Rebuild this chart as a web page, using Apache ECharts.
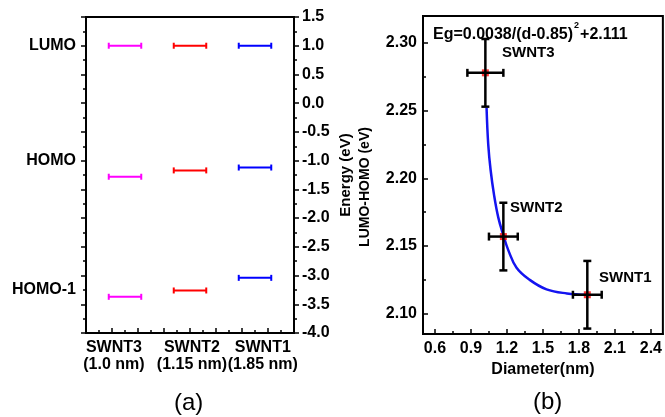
<!DOCTYPE html>
<html>
<head>
<meta charset="utf-8">
<script src="https://cdn.jsdelivr.net/npm/echarts@6/dist/echarts.min.js"></script>
<style>
html,body{margin:0;padding:0;background:#fff;}
#c{width:665px;height:417px;}
</style>
</head>
<body>
<div id="c"></div>
<script>
// ---------- Panel (a) data ----------
const samples = ['SWNT3', 'SWNT2', 'SWNT1'];
const sampleDiam = ['(1.0 nm)', '(1.15 nm)', '(1.85 nm)'];
const sampleX = [0.6, 1.6, 2.6];           // x position of each column on panel (a)
const sampleColors = ['#ff00ff', '#ff0000', '#0000ff'];
const levelSWNT3 = [1.0, -1.28, -3.37];    // LUMO, HOMO, HOMO-1 (eV)
const levelSWNT2 = [1.0, -1.17, -3.26];
const levelSWNT1 = [1.0, -1.12, -3.04];
const levelNames = ['LUMO', 'HOMO', 'HOMO-1'];
const levelNamePos = [1.0, -1.0, -3.25];
const sampleLabelPos = [0.43, 1.63, 2.72];

// ---------- Panel (b) data ----------
const diam = [1.02, 1.17, 1.87];
const gap = [2.278, 2.157, 2.114];
const diamErr = [0.15, 0.12, 0.12];
const gapErr = [0.025, 0.025, 0.025];
const fitD = [1.03, 1.044, 1.064, 1.092, 1.128, 1.17, 1.211, 1.28, 1.39, 1.53, 1.70, 1.864];
const fitE = [2.252, 2.225, 2.206, 2.188, 2.171, 2.158, 2.147, 2.134, 2.125, 2.118, 2.115, 2.114];
const xTicksB = [0.6, 0.9, 1.2, 1.5, 1.8, 2.1, 2.4];
const xMinorB = [0.75, 1.05, 1.35, 1.65, 1.95, 2.25];
const yTicksB = [2.10, 2.15, 2.20, 2.25, 2.30];
const yMinorB = [2.125, 2.175, 2.225, 2.275];

const FONT = 'Liberation Sans, Arial, sans-serif';
const lbl = {fontFamily: FONT, fontWeight: 'bold', fontSize: 16, color: '#000'};
const axLine = {show: true, onZero: false, lineStyle: {color: '#000', width: 2}};
const noLine = {show: false, onZero: false};

const levelsBySample = [levelSWNT3, levelSWNT2, levelSWNT1];
const HALF = 0.25;

function levelRender(params, api) {
  const x = api.value(0), y = api.value(1);
  const p1 = api.coord([x - HALF, y]);
  const p2 = api.coord([x + HALF, y]);
  const c = api.visual('color');
  const st = {stroke: c, lineWidth: 2};
  return {type: 'group', children: [
    {type: 'line', shape: {x1: p1[0], y1: p1[1], x2: p2[0], y2: p2[1]}, style: st},
    {type: 'line', shape: {x1: p1[0], y1: p1[1] - 3, x2: p1[0], y2: p1[1] + 3}, style: st},
    {type: 'line', shape: {x1: p2[0], y1: p2[1] - 3, x2: p2[0], y2: p2[1] + 3}, style: st}
  ]};
}

function errRender(params, api) {
  const x = api.value(0), y = api.value(1), ex = api.value(2), ey = api.value(3);
  const l = api.coord([x - ex, y]), r = api.coord([x + ex, y]);
  const t = api.coord([x, y + ey]), b = api.coord([x, y - ey]);
  const st = {stroke: '#000', lineWidth: 2.5};
  const cap = 4;
  return {type: 'group', children: [
    {type: 'line', shape: {x1: l[0], y1: l[1], x2: r[0], y2: r[1]}, style: st},
    {type: 'line', shape: {x1: l[0], y1: l[1] - cap, x2: l[0], y2: l[1] + cap}, style: st},
    {type: 'line', shape: {x1: r[0], y1: r[1] - cap, x2: r[0], y2: r[1] + cap}, style: st},
    {type: 'line', shape: {x1: t[0], y1: t[1], x2: b[0], y2: b[1]}, style: st},
    {type: 'line', shape: {x1: t[0] - cap, y1: t[1], x2: t[0] + cap, y2: t[1]}, style: st},
    {type: 'line', shape: {x1: b[0] - cap, y1: b[1], x2: b[0] + cap, y2: b[1]}, style: st}
  ]};
}

const levelSeries = samples.map((s, i) => ({
  type: 'custom', name: s, xAxisIndex: 0, yAxisIndex: 0,
  itemStyle: {color: sampleColors[i]},
  renderItem: levelRender,
  data: levelsBySample[i].map(v => [sampleX[i], v])
}));

const chart = echarts.init(document.getElementById('c'), null, {renderer: 'canvas'});
chart.setOption({
  animation: false,
  backgroundColor: '#fff',
  grid: [
    {left: 86, top: 17, width: 208, height: 316, show: true, borderColor: '#000', borderWidth: 2, backgroundColor: 'transparent'},
    {left: 423, top: 16, width: 241, height: 318, show: true, borderColor: '#000', borderWidth: 2, backgroundColor: 'transparent'}
  ],
  xAxis: [
    {gridIndex: 0, type: 'value', position: 'bottom', min: 0, max: 3.2, interval: 0.4, axisLine: axLine,
     axisTick: {show: true, inside: true, length: 5, lineStyle: {width: 1.5, color: '#000'}},
     minorTick: {show: true, splitNumber: 2, length: 3, lineStyle: {width: 1.5, color: '#000'}},
     axisLabel: {show: false}, splitLine: {show: false}},
    {gridIndex: 0, type: 'value', position: 'bottom', min: 0, max: 3.2, axisLine: noLine, axisTick: {show: false},
     splitLine: {show: false},
     axisLabel: Object.assign({}, lbl, {customValues: sampleLabelPos, margin: 6, lineHeight: 17,
       formatter: v => {
         const i = sampleLabelPos.findIndex(p => Math.abs(p - v) < 1e-6);
         return i < 0 ? '' : samples[i] + '\n' + sampleDiam[i];
       }})},
    {gridIndex: 1, type: 'value', position: 'bottom', min: 0.5, max: 2.5, axisLine: axLine,
     axisTick: {show: true, inside: true, length: 5, customValues: xTicksB, lineStyle: {width: 1.5, color: '#000'}},
     axisLabel: Object.assign({}, lbl, {customValues: xTicksB, margin: 7, formatter: v => v.toFixed(1)}),
     splitLine: {show: false},
     name: 'Diameter(nm)', nameLocation: 'middle', nameGap: 19,
     nameTextStyle: Object.assign({}, lbl)},
    {gridIndex: 1, type: 'value', position: 'bottom', min: 0.5, max: 2.5, axisLine: noLine,
     axisTick: {show: true, inside: true, length: 3, customValues: xMinorB, lineStyle: {width: 1.5, color: '#000'}},
     axisLabel: {show: false}, splitLine: {show: false}}
  ],
  yAxis: [
    {gridIndex: 0, type: 'value', min: -4, max: 1.5, interval: 0.5, position: 'left', axisLine: axLine,
     axisTick: {show: true, inside: false, length: 5, lineStyle: {width: 1.5, color: '#000'}},
     minorTick: {show: true, splitNumber: 2, length: 3, lineStyle: {width: 1.5, color: '#000'}},
     axisLabel: {show: false}, splitLine: {show: false}},
    {gridIndex: 0, type: 'value', min: -4, max: 1.5, interval: 0.5, position: 'right', axisLine: axLine,
     axisTick: {show: true, inside: false, length: 5, lineStyle: {width: 1.5, color: '#000'}},
     minorTick: {show: true, splitNumber: 2, length: 3, lineStyle: {width: 1.5, color: '#000'}},
     axisLabel: Object.assign({}, lbl, {margin: 8, formatter: v => v.toFixed(1)}),
     splitLine: {show: false},
     name: 'Energy (eV)', nameLocation: 'middle', nameGap: 44, nameRotate: 90,
     nameTextStyle: Object.assign({}, lbl, {fontSize: 15})},
    {gridIndex: 0, type: 'value', min: -4, max: 1.5, interval: 0.25, position: 'left',
     axisLine: noLine, axisTick: {show: false}, splitLine: {show: false},
     axisLabel: Object.assign({}, lbl, {margin: 10, formatter: v => {
       const i = levelNamePos.findIndex(p => Math.abs(p - v) < 1e-6);
       return i < 0 ? '' : levelNames[i];
     }})},
    {gridIndex: 1, type: 'value', min: 2.085, max: 2.32, position: 'left', axisLine: axLine,
     axisTick: {show: true, inside: true, length: 5, customValues: yTicksB, lineStyle: {width: 1.5, color: '#000'}},
     axisLabel: Object.assign({}, lbl, {customValues: yTicksB, margin: 6, formatter: v => v.toFixed(2)}),
     splitLine: {show: false},
     name: 'LUMO-HOMO (eV)', nameLocation: 'middle', nameGap: 51, nameRotate: 90,
     nameTextStyle: Object.assign({}, lbl, {fontSize: 14, padding: [0, 24, 0, 0]})},
    {gridIndex: 1, type: 'value', min: 2.085, max: 2.32, position: 'left', axisLine: noLine,
     axisTick: {show: true, inside: true, length: 3, customValues: yMinorB, lineStyle: {width: 1.5, color: '#000'}},
     axisLabel: {show: false}, splitLine: {show: false}}
  ],
  series: levelSeries.concat([
    {type: 'line', xAxisIndex: 2, yAxisIndex: 3, smooth: 0.4, symbol: 'none',
     lineStyle: {color: '#1414f0', width: 2.5},
     data: fitD.map((d, i) => [d, fitE[i]]), z: 2},
    {type: 'scatter', xAxisIndex: 2, yAxisIndex: 3, symbol: 'rect', symbolSize: 7,
     itemStyle: {color: '#ff0000'}, data: diam.map((d, i) => [d, gap[i]]), z: 3},
    {type: 'custom', xAxisIndex: 2, yAxisIndex: 3, renderItem: errRender, z: 4,
     data: diam.map((d, i) => [d, gap[i], diamErr[i], gapErr[i]])}
  ]),
  graphic: [
    {type: 'text', left: 433, top: 21, z: 10, style: {
      text: '{b|Eg=0.0038/(d-0.85)}{s|2}{b|+2.111}',
      rich: {b: {fontFamily: FONT, fontWeight: 'bold', fontSize: 16, fill: '#000', lineHeight: 22, verticalAlign: 'bottom'},
             s: {fontFamily: FONT, fontWeight: 'bold', fontSize: 9, fill: '#000', lineHeight: 22, verticalAlign: 'top', padding: [0, 1, 0, 1]}}}},
    {type: 'text', left: 502, top: 45, z: 10, style: {text: 'SWNT3', font: 'bold 15px ' + FONT, fill: '#000'}},
    {type: 'text', left: 510, top: 200, z: 10, style: {text: 'SWNT2', font: 'bold 15px ' + FONT, fill: '#000'}},
    {type: 'text', left: 599, top: 270, z: 10, style: {text: 'SWNT1', font: 'bold 15px ' + FONT, fill: '#000'}},
    {type: 'text', left: 174, top: 391, z: 10, style: {text: '(a)', font: '24px ' + FONT, fill: '#000'}},
    {type: 'text', left: 533, top: 390, z: 10, style: {text: '(b)', font: '24px ' + FONT, fill: '#000'}}
  ]
});
</script>
</body>
</html>
